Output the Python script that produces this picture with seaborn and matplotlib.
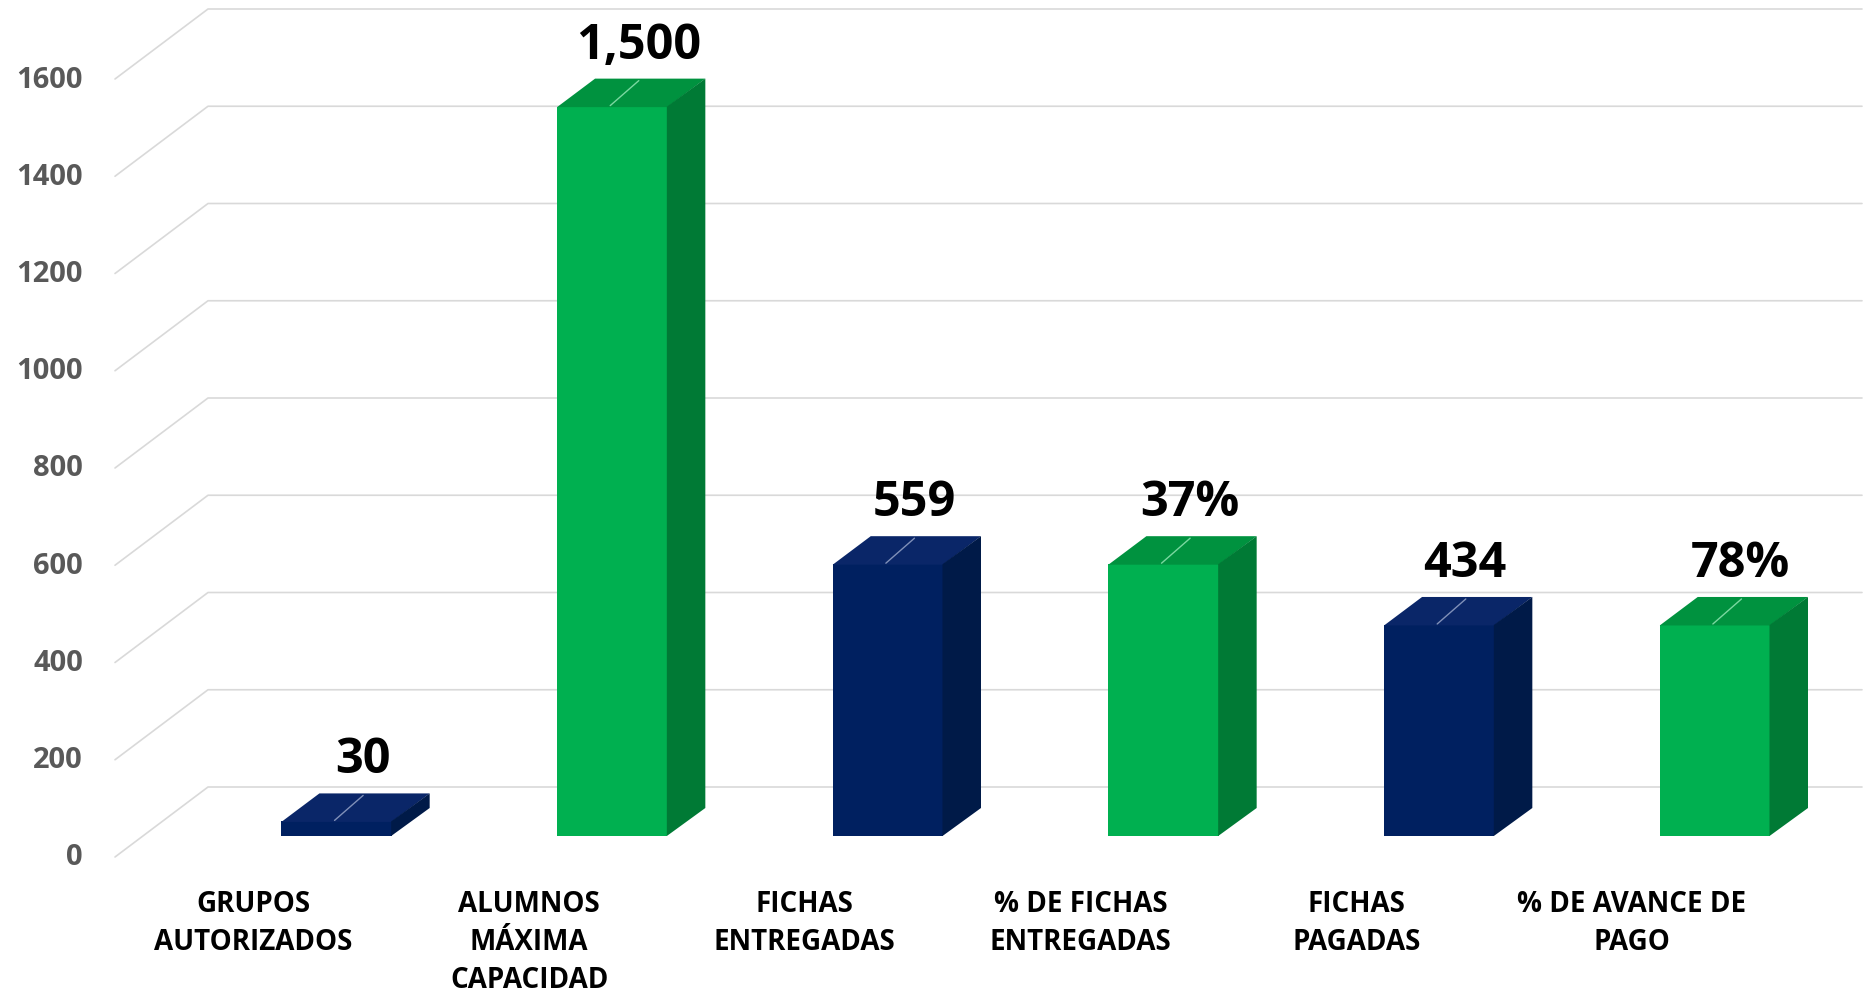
import numpy as np
import matplotlib.pyplot as plt
import seaborn as sns
from matplotlib.patches import Polygon
from matplotlib.transforms import IdentityTransform

# data
categories = ["GRUPOS\nAUTORIZADOS", "ALUMNOS\nMÁXIMA\nCAPACIDAD", "FICHAS\nENTREGADAS",
              "% DE FICHAS\nENTREGADAS", "FICHAS\nPAGADAS", "% DE AVANCE DE\nPAGO"]
values = [30, 1500, 559, 559, 434, 434]
value_labels = ["30", "1,500", "559", "37%", "434", "78%"]
y_ticks = [0, 200, 400, 600, 800, 1000, 1200, 1400, 1600]

# face colours: front, top, side, shine
BLUE = ("#002060", "#0a2668", "#001a48", "#8090b8")
GREEN = ("#00b050", "#00923f", "#007a35", "#7ad8a0")
styles = [BLUE, GREEN, BLUE, GREEN, BLUE, GREEN]

W, H = 1864, 995
DX, DY = 38, 28          # bar depth offset in pixels
FLOOR_FRONT_X, FLOOR_BACK_X = 115, 208

sns.set_theme(style="white")
plt.rcParams["font.family"] = ["Open Sans", "DejaVu Sans"]

fig = plt.figure(figsize=(W / 100, H / 100), dpi=100)
fig.patch.set_facecolor("white")
ax = fig.add_axes([198.7 / W, 158 / H, 1654 / W, 778 / H])

sns.barplot(x=categories, y=values, hue=categories, palette=[s[0] for s in styles],
            width=0.4, saturation=1, legend=False, ax=ax, zorder=3, linewidth=0)
ax.set_xlim(-0.5, 5.5)
ax.set_ylim(0, 1600)
ax.axis("off")

px = IdentityTransform()

# perspective grid: diagonal on the side wall, horizontal on the back wall
for v in y_ticks:
    yd = ax.transData.transform((0, v))[1]
    ax.plot([FLOOR_FRONT_X, FLOOR_BACK_X, W - 2], [yd - 21, yd + 49, yd + 49],
            color="#d9d9d9", lw=1.2, transform=px, clip_on=False, zorder=0)
    ax.text(83, yd - 21, f"{v}", transform=px, ha="right", va="center",
            color="#595959", fontsize=21, fontweight="bold")

bars = sorted(ax.patches, key=lambda p: p.get_x())
for p, st, lab, cat in zip(bars, styles, value_labels, categories):
    x0, y0 = ax.transData.transform((p.get_x(), 0))
    x1, y1 = ax.transData.transform((p.get_x() + p.get_width(), p.get_height()))
    xc = (x0 + x1) / 2
    top = [(x0, y1 - 0.5), (x1, y1 - 0.5), (x1 + DX, y1 + DY), (x0 + DX, y1 + DY)]
    side = [(x1 - 0.5, y0), (x1 + DX, y0 + DY), (x1 + DX, y1 + DY), (x1 - 0.5, y1)]
    ax.add_patch(Polygon(top, closed=True, fc=st[1], ec="none", transform=px,
                         clip_on=False, zorder=4))
    ax.add_patch(Polygon(side, closed=True, fc=st[2], ec="none", transform=px,
                         clip_on=False, zorder=4))
    ax.plot([xc - 2, xc + DX * 0.7], [y1 + 1, y1 + DY - 2], color=st[3], lw=1,
            transform=px, clip_on=False, zorder=5)
    ax.text(xc + DX / 2 + 7, y1 + DY + 21, lab, transform=px, ha="center",
            va="baseline", fontsize=35, fontweight="bold", color="black")
    ax.text(xc - 83, 105, cat, transform=px, ha="center", va="top",
            fontsize=20, fontweight="bold", color="black", linespacing=1.42)

fig.savefig("out.png", dpi=100)
